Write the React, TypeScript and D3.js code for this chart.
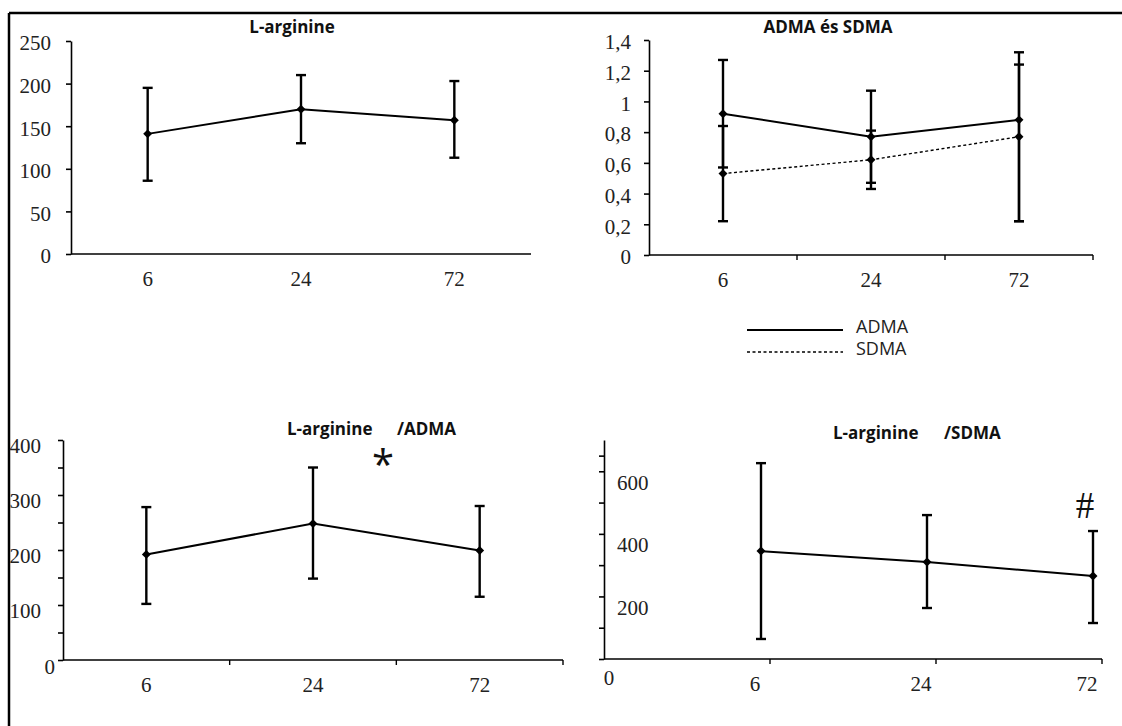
import { useEffect, useRef } from "react";
import * as d3 from "d3";

// sampling times (hours)
const hours = ["6", "24", "72"];
const hoursWithZero = ["0", "6", "24", "72"];

// L-arginine
const argMean = [141, 170, 157];
const argHigh = [195, 210, 203];
const argLow = [86, 130, 113];

// ADMA and SDMA
const admaMean = [0.92, 0.77, 0.88];
const admaHigh = [1.27, 1.07, 1.32];
const admaLow = [0.57, 0.47, 0.22];
const sdmaMean = [0.53, 0.62, 0.77];
const sdmaHigh = [0.84, 0.81, 1.24];
const sdmaLow = [0.22, 0.43, 0.22];

// L-arginine / ADMA
const argAdmaMean = [192, 248, 199];
const argAdmaHigh = [278, 350, 280];
const argAdmaLow = [102, 148, 115];

// L-arginine / SDMA
const argSdmaMean = [345, 310, 265];
const argSdmaHigh = [626, 460, 409];
const argSdmaLow = [64, 163, 115];

// axis ticks
const argTicks = [0, 50, 100, 150, 200, 250];
const dmaTicks = [0, 0.2, 0.4, 0.6, 0.8, 1, 1.2, 1.4];
const argAdmaTicks = [0, 50, 100, 150, 200, 250, 300, 350, 400];
const argAdmaLabels = [0, 100, 200, 300, 400];
const argSdmaTicks = [0, 100, 200, 300, 400, 500, 600, 650];
const argSdmaLabels = [200, 400, 600];

const serif = "'Liberation Serif', 'Times New Roman', serif";
const sans = "'Open Sans', 'Noto Sans', sans-serif";

const App = () => {
    const ref = useRef<SVGSVGElement | null>(null);

    useEffect(() => {
        const svg = d3.select(ref.current);
        svg.selectAll("*").remove();

        // frame (top and left edge only)
        svg.append("line").attr("x1", 9).attr("x2", 1122).attr("y1", 13).attr("y2", 13)
            .attr("stroke", "#000").attr("stroke-width", 2.5);
        svg.append("line").attr("x1", 9).attr("x2", 9).attr("y1", 13).attr("y2", 726)
            .attr("stroke", "#000").attr("stroke-width", 2.5);

        const yAxis = (y: any, xPos: number, ticks: number[]) => {
            svg.append("g")
                .attr("transform", `translate(${xPos},0)`)
                .call(d3.axisLeft(y).tickValues(ticks).tickSize(5).tickSizeOuter(0).tickFormat(() => ""))
                .call((g: any) => g.selectAll("path,line").attr("stroke", "#000").attr("stroke-width", 1.6));
        };

        const xAxisLine = (x0: number, x1: number, yPos: number, marks: number[]) => {
            svg.append("line").attr("x1", x0).attr("x2", x1).attr("y1", yPos).attr("y2", yPos)
                .attr("stroke", "#000").attr("stroke-width", 1.6);
            svg.selectAll(null).data(marks).enter().append("line")
                .attr("x1", d => d).attr("x2", d => d)
                .attr("y1", yPos).attr("y2", yPos + 5)
                .attr("stroke", "#000").attr("stroke-width", 1.4);
        };

        const yLabels = (y: any, values: number[], xPos: number, anchor: string, dy: number, fmt = (d: number) => String(d)) => {
            svg.selectAll(null).data(values).enter().append("text")
                .attr("x", xPos)
                .attr("y", d => y(d) + dy)
                .attr("dy", "0.35em")
                .attr("text-anchor", anchor)
                .attr("font-family", serif)
                .attr("font-size", 21)
                .attr("fill", "#222")
                .text(fmt);
        };

        const xLabels = (cats: string[], xs: number[], yPos: number) => {
            svg.selectAll(null).data(cats).enter().append("text")
                .attr("x", (d, i) => xs[i])
                .attr("y", yPos + 25)
                .attr("dy", "0.35em")
                .attr("text-anchor", "middle")
                .attr("font-family", serif)
                .attr("font-size", 21)
                .attr("fill", "#222")
                .text(d => d);
        };

        const series = (xs: number[], y: any, mean: number[], high: number[], low: number[], dashed: boolean) => {
            const pts = xs.map((x, i) => ({ x, m: mean[i], h: high[i], l: low[i] }));
            const g = svg.append("g");
            // error bars
            g.selectAll(null).data(pts).enter().append("line")
                .attr("x1", d => d.x).attr("x2", d => d.x)
                .attr("y1", d => y(d.h)).attr("y2", d => y(d.l))
                .attr("stroke", "#000").attr("stroke-width", 2.4);
            ["h", "l"].forEach(k => {
                g.selectAll(null).data(pts).enter().append("line")
                    .attr("x1", d => d.x - 5).attr("x2", d => d.x + 5)
                    .attr("y1", (d: any) => y(d[k])).attr("y2", (d: any) => y(d[k]))
                    .attr("stroke", "#000").attr("stroke-width", 2.4);
            });
            // mean line
            const line = d3.line<any>().x(d => d.x).y(d => y(d.m));
            g.append("path")
                .datum(pts)
                .attr("d", line)
                .attr("fill", "none")
                .attr("stroke", "#000")
                .attr("stroke-width", dashed ? 1.4 : 2)
                .attr("stroke-dasharray", dashed ? "3,2.5" : null);
            // diamond markers
            g.selectAll(null).data(pts).enter().append("path")
                .attr("d", d3.symbol(d3.symbolSquare, 40)())
                .attr("transform", d => `translate(${d.x},${y(d.m)}) rotate(45)`)
                .attr("fill", "#000");
        };

        const title = (txt: string, x: number, y: number, anchor = "middle") => {
            svg.append("text")
                .attr("x", x).attr("y", y).attr("dy", "0.35em")
                .attr("text-anchor", anchor)
                .attr("font-family", sans)
                .attr("font-weight", "bold")
                .attr("font-size", 17)
                .attr("fill", "#111")
                .text(txt);
        };

        // ---- Panel 1: L-arginine
        const x1 = d3.scaleBand().domain(hours).range([71, 531]);
        const y1 = d3.scaleLinear().domain([0, 250]).range([254, 41]);
        const xs1 = hours.map(h => (x1(h) as number) + x1.bandwidth() / 2);
        xAxisLine(71, 531, 254, []);
        yAxis(y1, 71, argTicks);
        yLabels(y1, argTicks, 51, "end", 2);
        xLabels(hours, xs1, 254);
        series(xs1, y1, argMean, argHigh, argLow, false);
        title("L-arginine", 292, 27);

        // ---- Panel 2: ADMA és SDMA
        const x2 = d3.scaleBand().domain(hours).range([649, 1093]);
        const y2 = d3.scaleLinear().domain([0, 1.4]).range([255, 40]);
        const xs2 = hours.map(h => (x2(h) as number) + x2.bandwidth() / 2);
        xAxisLine(649, 1093, 255, [...hours.slice(1).map(h => x2(h) as number), 1093]);
        yAxis(y2, 649, dmaTicks);
        yLabels(y2, dmaTicks, 631, "end", 2, d => String(d).replace(".", ","));
        xLabels(hours, xs2, 255);
        series(xs2, y2, sdmaMean, sdmaHigh, sdmaLow, true);
        series(xs2, y2, admaMean, admaHigh, admaLow, false);
        title("ADMA és SDMA", 828, 27);

        // legend
        const legend = [{ name: "ADMA", dash: null, w: 2, y: 330 }, { name: "SDMA", dash: "3,2.5", w: 1.6, y: 352 }];
        legend.forEach(l => {
            svg.append("line").attr("x1", 747).attr("x2", 843).attr("y1", l.y).attr("y2", l.y)
                .attr("stroke", "#000").attr("stroke-width", l.w).attr("stroke-dasharray", l.dash);
            svg.append("text").attr("x", 856).attr("y", l.y - 3).attr("dy", "0.35em")
                .attr("font-family", sans).attr("font-size", 18).attr("fill", "#222").text(l.name);
        });

        // ---- Panel 3: L-arginine/ADMA
        const x3 = d3.scaleBand().domain(hours).range([63, 563]);
        const y3 = d3.scaleLinear().domain([0, 400]).range([660, 440]);
        const xs3 = hours.map(h => (x3(h) as number) + x3.bandwidth() / 2);
        xAxisLine(63, 563, 660, [...hours.slice(1).map(h => x3(h) as number), 563]);
        yAxis(y3, 63, argAdmaTicks);
        yLabels(y3, argAdmaLabels.slice(1), 41, "end", 6);
        yLabels(y3, [0], 55, "end", 7);
        xLabels(hours, xs3, 660);
        series(xs3, y3, argAdmaMean, argAdmaHigh, argAdmaLow, false);
        title("L-arginine", 287, 429, "start");
        title("/ADMA", 397, 429, "start");
        svg.append("text").attr("x", 383).attr("y", 479).attr("text-anchor", "middle")
            .attr("font-family", sans).attr("font-size", 40).attr("fill", "#111").text("*");

        // ---- Panel 4: L-arginine/SDMA
        const x4 = d3.scalePoint().domain(hoursWithZero).range([604, 1102]);
        const y4 = d3.scaleLinear().domain([0, 700]).range([659, 440]);
        const xs4 = hours.map(h => (x4(h) as number) - 9);
        xAxisLine(604, 1102, 659, hours.map(h => x4(h) as number));
        yAxis(y4, 604, argSdmaTicks);
        yLabels(y4, argSdmaLabels, 617, "start", 11);
        xLabels(hours, hours.map(h => (x4(h) as number) - 15), 659);
        xLabels(["0"], [(x4("0") as number) + 5], 653);
        series(xs4, y4, argSdmaMean, argSdmaHigh, argSdmaLow, false);
        title("L-arginine", 833, 433, "start");
        title("/SDMA", 944, 433, "start");
        svg.append("text").attr("x", 1085).attr("y", 518).attr("text-anchor", "middle")
            .attr("font-family", serif).attr("font-size", 37).attr("fill", "#111").text("#");
    }, []);

    return (
        <svg
            ref={ref}
            width={1122}
            height={726}
            style={{ position: "absolute", left: 0, top: 0, background: "#fff" }}
        />
    );
};

export default App;
